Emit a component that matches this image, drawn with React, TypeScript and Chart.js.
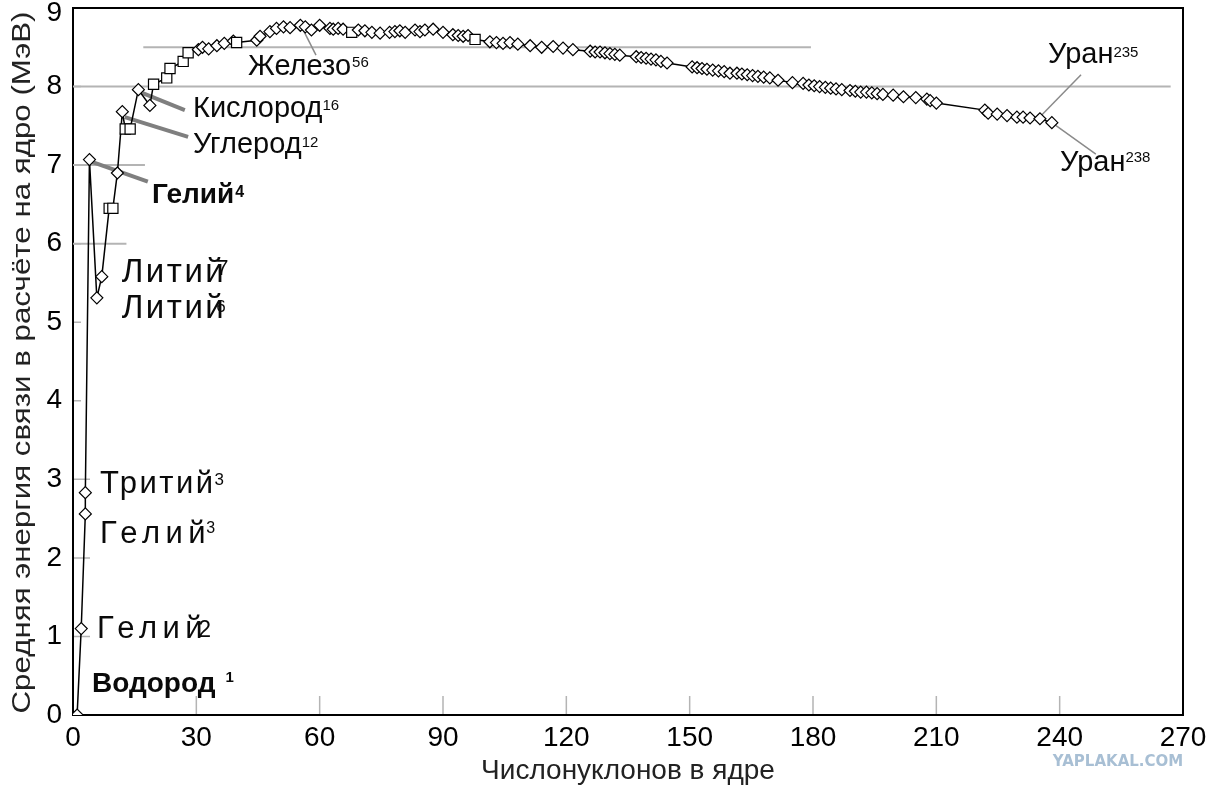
import { useEffect, useRef } from 'react'
import { Chart, registerables } from 'chart.js'

Chart.register(...registerables)

// nucleon number (A) of each plotted nucleus
const nucleons = [
  1, 2, 3, 3, 4, 5.8, 7, 8.8, 9.7, 10.8, 12, 12.7, 13.9, 15.9, 18.7, 19.6, 22.8, 23.6, 26.8, 28,
  30.5, 31.5, 33, 35, 36.8, 39, 39.8, 44.7, 45.5, 47.9, 49.5, 51.2, 52.8, 55.3, 56.5, 58, 60, 62.5, 63.3, 64.5,
  65.7, 67.8, 69.4, 71, 72.7, 74.7, 77, 78.3, 79.5, 80.8, 83.2, 84.4, 85.6, 87.6, 90, 92.4, 93.7, 94.9, 96.1, 97.8,
  101.4, 103, 104.6, 106.3, 108.2, 111.2, 114, 116.8, 119.2, 121.6, 125.8, 127, 128.2, 129.4, 130.6, 131.8, 133,
  137, 138.2, 139.4, 140.6, 141.8, 143, 144.5,
  150.6, 151.8, 153, 154.2, 155.6, 157, 158.4, 159.8, 161.5, 162.7, 164, 165.3, 166.6, 168, 169.5, 171.5, 175, 177.6,
  179, 180.3, 181.6, 183, 184.3, 185.6, 187, 189, 190.3, 191.6, 193, 194.3, 195.6, 197, 199.5, 202, 205, 207.7, 208.5, 210,
  221.8, 222.6, 224.8, 227.2, 229.6, 231.1, 232.8, 235.2, 238.1,
]

// average binding energy per nucleon, MeV
const energy = [
  0, 1.1, 2.56, 2.83, 7.07, 5.31, 5.58, 6.45, 6.45, 6.9, 7.68, 7.46, 7.46, 7.96, 7.76, 8.03, 8.11, 8.23, 8.32, 8.43,
  8.47, 8.5, 8.48, 8.52, 8.55, 8.58, 8.56, 8.59, 8.64, 8.7, 8.74, 8.76, 8.75, 8.78, 8.76, 8.72, 8.78, 8.74, 8.73, 8.74,
  8.73, 8.69, 8.72, 8.71, 8.69, 8.68, 8.69, 8.7, 8.71, 8.69, 8.72, 8.7, 8.72, 8.73, 8.69, 8.66, 8.65, 8.64, 8.65, 8.6,
  8.57, 8.56, 8.55, 8.56, 8.54, 8.52, 8.5, 8.51, 8.49, 8.47, 8.45, 8.44, 8.44, 8.43, 8.42, 8.41, 8.4,
  8.38, 8.37, 8.36, 8.35, 8.34, 8.32, 8.3,
  8.25, 8.24, 8.23, 8.22, 8.21, 8.2, 8.19, 8.17, 8.17, 8.16, 8.15, 8.14, 8.13, 8.12, 8.11, 8.08, 8.05, 8.04,
  8.02, 8.01, 8.0, 7.99, 7.98, 7.97, 7.96, 7.95, 7.94, 7.93, 7.93, 7.92, 7.91, 7.9, 7.89, 7.87, 7.86, 7.84, 7.82, 7.79,
  7.7, 7.66, 7.65, 7.63, 7.61, 7.61, 7.6, 7.59, 7.54,
]

// nuclei drawn with a square marker instead of a diamond
const squareNuclei = [8.8, 9.7, 12.7, 13.9, 19.6, 22.8, 23.6, 26.8, 28, 39.8, 67.8, 97.8]

const xTicks = [0, 30, 60, 90, 120, 150, 180, 210, 240, 270]
const yTicks = [0, 1, 2, 3, 4, 5, 6, 7, 8, 9]

// leftover pieces of grid lines: [energy, from A, to A]
const gridPieces = [
  [8.5, 17.1, 179.5],
  [8, 0, 267],
  [7, 0, 17.5],
  [6, 0, 13],
]

// leader lines from labels to points: [A1, E1, A2, E2, thick]
const leaders = [
  [55.9, 8.73, 59.1, 8.4, 0],
  [16.8, 7.92, 27.2, 7.7, 1],
  [12.6, 7.61, 28.0, 7.36, 1],
  [4.6, 7.04, 18.2, 6.79, 1],
  [235.7, 7.64, 245.2, 8.15, 0],
  [238.1, 7.54, 248.8, 7.14, 0],
]

const labels = [
  { text: 'Железо', sup: '56', a: 42.57, e: 8.15, size: 29, supSize: 15, dx: 1, dy: -8 },
  { text: 'Кислород', sup: '16', a: 29.19, e: 7.61, size: 29, supSize: 15, dx: 0, dy: -7 },
  { text: 'Углерод', sup: '12', a: 29.19, e: 7.15, size: 29, supSize: 15, dx: 0, dy: -6 },
  { text: 'Гелий', sup: '4', a: 19.22, e: 6.52, size: 28, bold: true, supSize: 16, dx: 1, dy: -6 },
  { text: 'Литий', sup: '7', a: 11.85, e: 5.51, size: 33, spacing: 2.5, supSize: 22, dx: -10, dy: -7 },
  { text: 'Литий', sup: '6', a: 11.85, e: 5.05, size: 33, spacing: 2.5, supSize: 17, dx: -10, dy: -6 },
  { text: 'Тритий', sup: '3', a: 6.57, e: 2.83, size: 31, spacing: 2.5, supSize: 17, dx: -1, dy: -8 },
  { text: 'Гелий', sup: '3', a: 6.57, e: 2.19, size: 31, spacing: 5.5, supSize: 16, dx: -5, dy: -10 },
  { text: 'Гелий', sup: '2', a: 5.84, e: 0.98, size: 31, spacing: 5.5, supSize: 23, dx: -10, dy: -1 },
  { text: 'Водород', sup: '1', a: 4.62, e: 0.29, size: 28, bold: true, supSize: 15, dx: 10, dy: -10 },
  { text: 'Уран', sup: '235', a: 237.17, e: 8.3, size: 29, supSize: 15, dx: 0, dy: -6 },
  { text: 'Уран', sup: '238', a: 240.09, e: 6.92, size: 29, supSize: 15, dx: 0, dy: -9 },
]

const Y_TITLE = 'Средняя энергия связи в расчёте на ядро (МэВ)'
const FONT = '"Liberation Sans", Arial, sans-serif'

const decor = {
  id: 'decor',
  beforeDatasetsDraw(chart: any) {
    const { ctx, chartArea: ca, scales } = chart
    const xs = scales.x, ys = scales.y
    ctx.save()
    ctx.strokeStyle = '#b4b4b4'
    ctx.lineWidth = 1.5
    ctx.beginPath()
    xTicks.slice(1, -1).forEach(v => {
      const px = xs.getPixelForValue(v)
      ctx.moveTo(px, ca.bottom)
      ctx.lineTo(px, ca.bottom - 19)
    })
    yTicks.slice(1, -1).forEach(v => {
      const py = ys.getPixelForValue(v)
      ctx.moveTo(ca.left, py)
      ctx.lineTo(ca.left + (v <= 3 ? 17 : 8), py)
    })
    ctx.stroke()
    ctx.strokeStyle = '#000'
    ctx.lineWidth = 2
    ctx.strokeRect(ca.left, ca.top, ca.right - ca.left, ca.bottom - ca.top)
    ctx.restore()
  },
  afterDraw(chart: any) {
    const { ctx, chartArea: ca, scales } = chart
    const xs = scales.x, ys = scales.y
    ctx.save()
    ctx.fillStyle = '#0a0a0a'
    ctx.textBaseline = 'alphabetic'
    ctx.textAlign = 'left'
    labels.forEach(l => {
      const px = xs.getPixelForValue(l.a)
      const py = ys.getPixelForValue(l.e)
      ctx.font = `${l.bold ? 'bold ' : ''}${l.size}px ${FONT}`
      ;(ctx as any).letterSpacing = `${l.spacing ?? 0}px`
      ctx.fillText(l.text, px, py)
      const w = ctx.measureText(l.text).width
      ;(ctx as any).letterSpacing = '0px'
      ctx.font = `${l.bold ? 'bold ' : ''}${l.supSize}px ${FONT}`
      ctx.fillText(l.sup, px + w + l.dx, py + l.dy)
    })

    // y axis title, stretched along its length like the original
    ctx.font = `26px ${FONT}`
    ctx.fillStyle = '#222'
    ctx.textAlign = 'center'
    const tw = ctx.measureText(Y_TITLE).width
    ctx.save()
    ctx.translate(30, (ca.top + ca.bottom) / 2 + 1)
    ctx.rotate(-Math.PI / 2)
    ctx.scale(702 / tw, 1)
    ctx.fillText(Y_TITLE, 0, 0)
    ctx.restore()

    // site watermark
    ctx.font = `bold 15px "DejaVu Sans", sans-serif`
    ctx.fillStyle = '#a8bfd4'
    ctx.textAlign = 'center'
    ctx.textBaseline = 'middle'
    ctx.fillText('YAPLAKAL.COM', 1118, 762)
    ctx.restore()
  },
}

export default function App() {
  const canvasRef = useRef<HTMLCanvasElement>(null)

  useEffect(() => {
    if (!canvasRef.current) return
    document.body.style.margin = '0'

    const points = nucleons.map((a, i) => ({ x: a, y: energy[i] }))
    const styles = nucleons.map(a => (squareNuclei.includes(a) ? 'rect' : 'rectRot'))
    const radii = nucleons.map(a => (squareNuclei.includes(a) ? 7.2 : 6))

    const gridSets = gridPieces.map(([e, a1, a2]) => ({
      data: [{ x: a1, y: e }, { x: a2, y: e }],
      showLine: true,
      borderColor: '#b4b4b4',
      borderWidth: 2,
      pointRadius: 0,
      order: 3,
    }))
    const leaderSets = leaders.map(([a1, e1, a2, e2, thick]) => ({
      data: [{ x: a1, y: e1 }, { x: a2, y: e2 }],
      showLine: true,
      borderColor: thick ? '#7f7f7f' : '#8a8a8a',
      borderWidth: thick ? 4 : 1.5,
      pointRadius: 0,
      order: 2,
    }))

    const chart = new Chart(canvasRef.current, {
      type: 'scatter',
      data: {
        datasets: [
          {
            data: points,
            showLine: true,
            borderColor: '#000',
            borderWidth: 1.5,
            pointStyle: styles as any,
            pointRadius: radii,
            pointBorderColor: '#000',
            pointBackgroundColor: '#fff',
            pointBorderWidth: 1.2,
            order: 0,
          },
          ...leaderSets,
          ...gridSets,
        ] as any,
      },
      options: {
        animation: false,
        responsive: true,
        maintainAspectRatio: false,
        layout: { padding: { top: 8, right: 29, left: 0, bottom: 0 } },
        plugins: { legend: { display: false }, tooltip: { enabled: false } },
        scales: {
          x: {
            type: 'linear',
            min: 0,
            max: 270,
            afterBuildTicks: (s: any) => { s.ticks = xTicks.map(v => ({ value: v })) },
            afterFit: (s: any) => {
              s.height = 77
              s.paddingLeft = 0
              s.paddingRight = 0
            },
            grid: { display: false, drawTicks: false },
            border: { display: false },
            ticks: { color: '#000', padding: 6, font: { size: 28, family: FONT } },
            title: {
              display: true,
              text: 'Числонуклонов в ядре',
              color: '#222',
              font: { size: 28, family: FONT },
              padding: { top: 0, bottom: 4 },
            },
          },
          y: {
            type: 'linear',
            min: 0,
            max: 9,
            afterBuildTicks: (s: any) => { s.ticks = yTicks.map(v => ({ value: v })) },
            afterFit: (s: any) => {
              s.width = 73
              s.paddingTop = 0
              s.paddingBottom = 0
            },
            grid: { display: false, drawTicks: false },
            border: { display: false },
            ticks: {
              color: '#000',
              padding: 11,
              // the top label sits a little lower so it stays inside the picture
              callback: (v: any) => (v === 9 ? ['', '9'] : String(v)),
              font: (c: any) =>
                c.tick && c.tick.value === 9
                  ? { size: 28, family: FONT, lineHeight: 0.4 }
                  : { size: 28, family: FONT },
            },
          },
        },
      },
      plugins: [decor],
    })
    return () => chart.destroy()
  }, [])

  return (
    <div style={{ position: 'fixed', left: 0, top: 0, width: 1212, height: 792, background: '#fff' }}>
      <canvas ref={canvasRef} />
    </div>
  )
}
